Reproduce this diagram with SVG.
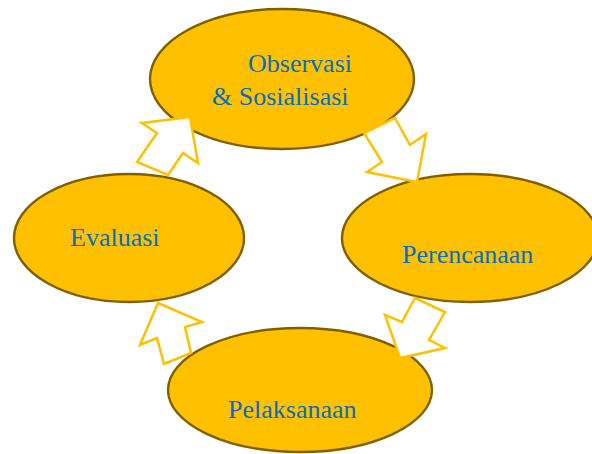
<svg xmlns="http://www.w3.org/2000/svg" width="592" height="454" viewBox="0 0 592 454">
<style>
.node ellipse{fill:#FFC000;stroke:#7F6000;stroke-width:2.4}
.node text{font-family:"Liberation Serif","Times New Roman",serif;font-size:26px;fill:#0070C0}
.arrow{fill:#FFFFFF;stroke:#FFC000;stroke-width:2.5;stroke-linejoin:miter}
</style>
<rect width="592" height="454" fill="#FFFFFF"/>
<g id="node-observasi" class="node">
<ellipse cx="282" cy="79" rx="132" ry="70"/>
<text x="248" y="72">Observasi</text>
<text x="212" y="105">&amp; Sosialisasi</text>
</g>
<g id="node-perencanaan" class="node">
<ellipse cx="470" cy="238" rx="128" ry="64"/>
<text x="402" y="263">Perencanaan</text>
</g>
<g id="node-evaluasi" class="node">
<ellipse cx="129" cy="238" rx="115" ry="64"/>
<text x="70" y="246">Evaluasi</text>
</g>
<g id="node-pelaksanaan" class="node">
<ellipse cx="300" cy="390" rx="132" ry="62"/>
<text x="228" y="418">Pelaksanaan</text>
</g>
<g id="connectors">
<polygon class="arrow" points="142,123 190,117 198,163 183,153 168,175 137,162 157,133"/>
<polygon class="arrow" points="395,118 410,145 426,134 417,182 367,172 382,162 364,133"/>
<polygon class="arrow" points="415,298 445,312 429,340 445,348 400,358 385,315 402,322"/>
<polygon class="arrow" points="158,303 202,322 185,327 191,353 164,364 157,338 140,345"/>
</g>
</svg>
